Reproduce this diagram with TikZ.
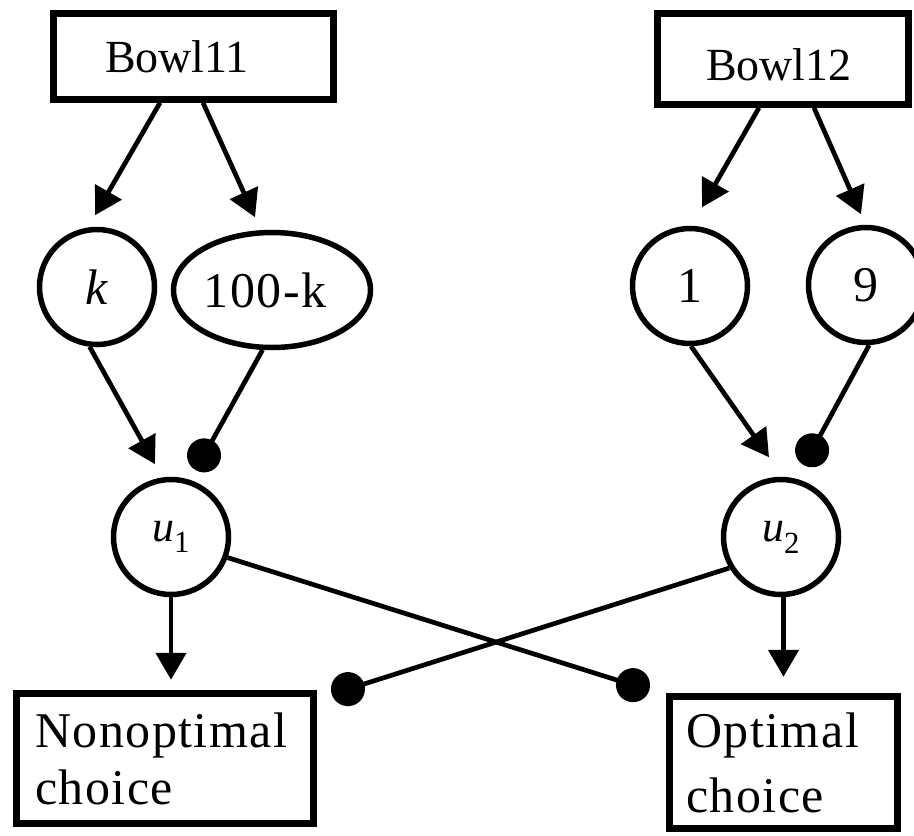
\documentclass[tikz,border=0pt]{standalone}
\usepackage{fontspec}
\setmainfont{Liberation Serif}
\newfontfamily\spacedserif[LetterSpace=3]{Liberation Serif}
\usetikzlibrary{arrows.meta,shapes.geometric,calc}

\begin{document}
\begin{tikzpicture}[x=1pt,y=-1pt,
  boxnode/.style={draw, rectangle, line width=6.5pt, inner ysep=0pt, align=left},
  disc/.style={draw, circle, line width=5.5pt, minimum size=115pt, inner sep=0pt,
    font=\fontsize{50}{58}\selectfont},
  conn/.style={line width=4.7pt},
  arr/.style={conn, -{Triangle[length=27pt,width=30pt]}},
  inh/.style={conn, -{Circle[length=34pt]}},
]
\useasboundingbox (0,0) rectangle (914,836);

% bowls
\node[boxnode, minimum height=86pt, text width=177pt, inner xsep=51.5pt,
  font=\fontsize{46}{54}\selectfont] (bowl11) at (193.5,56.5) {Bowl11};
\node[boxnode, minimum height=91pt, text width=154pt, inner xsep=48.5pt,
  text height=44pt, font=\fontsize{46}{54}\selectfont] (bowl12) at (783,59) {Bowl12};

% counts
\node[disc] (k) at (97,287) {\textit{k}};
\node[draw, ellipse, line width=5.5pt, minimum width=197pt, minimum height=115pt,
  inner sep=0pt, font=\spacedserif\fontsize{50}{58}\selectfont] (hk) at (272,290)
  {\hspace*{-14pt}100-k};
\node[disc] (one) at (690,286) {1};
\node[disc] (nine) at (866,285) {9};

% utilities
\node[disc, font=\fontsize{44}{50}\selectfont] (u1) at (171,537) {\textit{u}\textsubscript{1}};
\node[disc, font=\fontsize{44}{50}\selectfont] (u2) at (781,537) {\textit{u}\textsubscript{2}};

% choices
\node[boxnode, minimum height=130pt, text width=260pt, inner xsep=18.5pt,
  font=\spacedserif\fontsize{50}{57}\selectfont] (nonopt) at (165,758.5) {Nonoptimal\\choice};
\node[boxnode, minimum height=132pt, text width=195pt, inner xsep=16.5pt,
  font=\spacedserif\fontsize{50}{65}\selectfont] (opt) at (783.5,762.5) {Optimal\\choice};

% bowl to counts
\draw[arr] ($(bowl11.south)+(-33.5,0)$) -- ($(k.north)+(-2,-11.5)$);
\draw[arr] ($(bowl11.south)+(9.5,0)$) -- ($(hk.north)+(-17,-12.5)$);
\draw[arr] ($(bowl12.south)+(-24,0)$) -- ($(one.north)+(12,-18.5)$);
\draw[arr] ($(bowl12.south)+(31,0)$) -- ($(nine.north)+(-5,-10.5)$);

% counts to utilities
\draw[arr] (k.263) -- ($(u1.north)+(-16,-12.5)$);
\draw[inh] (hk.261) -- ($(u1.north)+(24.8,-6.5)$);
\draw[arr] (one.271) -- ($(u2.north)+(-12,-19.5)$);
\draw[inh] (nine.273) -- ($(u2.north)+(23,-11.5)$);

% utilities to choices
\draw[arr, shorten >=10.5pt] (u1.south) -- (u1.south |- nonopt.north);
\draw[arr, shorten >=16.5pt] (u2.south -| opt.north) -- (opt.north);
\draw[inh] (u1.340) -- ($(opt.north west)+(-17,-3)$);
\draw[inh] (u2.211) -- ($(nonopt.north east)+(15,4)$);
\end{tikzpicture}
\end{document}
